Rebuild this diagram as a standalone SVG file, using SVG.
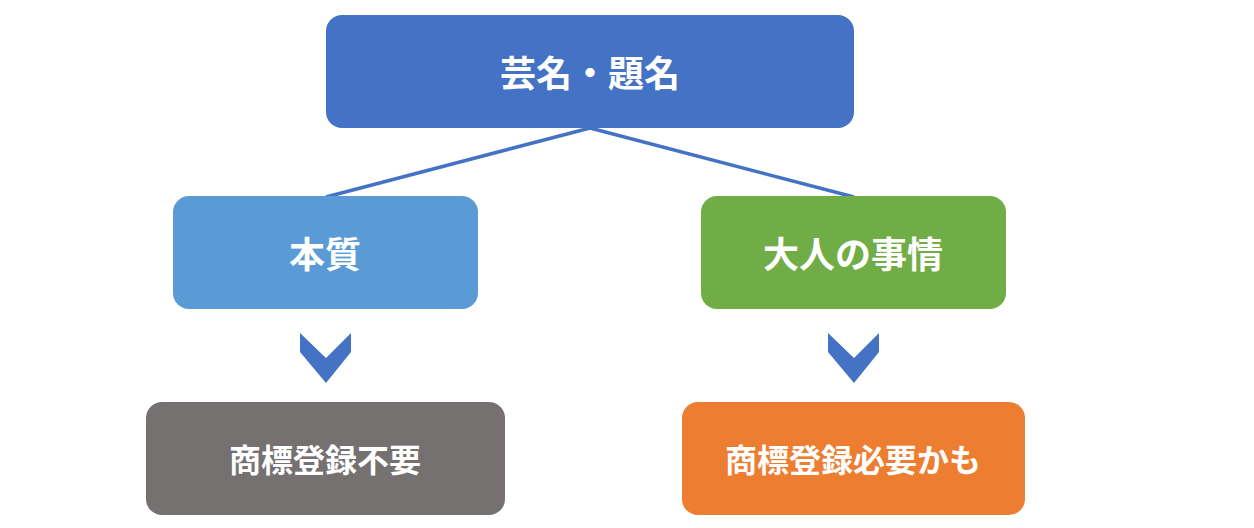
<svg xmlns="http://www.w3.org/2000/svg" width="1254" height="528" viewBox="0 0 1254 528">
<style>
text{font-family:"Noto Sans CJK JP",sans-serif;font-weight:bold;fill:#fff;text-anchor:middle;dominant-baseline:central}
.c{fill:#4472C4}
</style>
<rect width="1254" height="528" fill="#fff"/>
<g id="connectors">
<path d="M590 128 L326 197 M590 128 L854 197" stroke="#4472C4" stroke-width="3.5" fill="none"/>
<polygon class="c" points="300,333 326,358 351,333 351,352 326,383 300,352"/>
<polygon class="c" points="828,333 854,358 879,333 879,352 854,383 828,352"/>
</g>
<g id="top"><rect x="326" y="15" width="528" height="113" rx="16" fill="#4472C4"/><text x="590" y="71" font-size="36">芸名・題名</text></g>
<g id="honshitsu"><rect x="173" y="196" width="305" height="113" rx="16" fill="#5B9BD5"/><text x="325" y="252" font-size="36">本質</text></g>
<g id="otona"><rect x="701" y="196" width="305" height="113" rx="16" fill="#70AD47"/><text x="853" y="252" font-size="36">大人の事情</text></g>
<g id="fuyou"><rect x="146" y="402" width="359" height="113" rx="16" fill="#767171"/><text x="325" y="458" font-size="32">商標登録不要</text></g>
<g id="hitsuyou"><rect x="682" y="402" width="343" height="113" rx="16" fill="#ED7D31"/><text x="853" y="458" font-size="32">商標登録必要かも</text></g>
</svg>
